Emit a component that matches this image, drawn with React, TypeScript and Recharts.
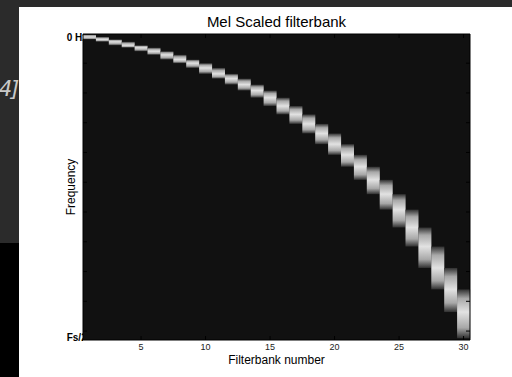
import React from "react";
import { BarChart, Bar, XAxis, YAxis, CartesianGrid } from "recharts";

// filter numbers and their band edges in FFT bins (1 = 0 Hz, 257 = Fs/2)
const filterNumbers = [
  1, 2, 3, 4, 5, 6, 7, 8, 9, 10, 11, 12, 13, 14, 15, 16, 17, 18, 19, 20, 21, 22, 23, 24, 25, 26, 27, 28,
  29, 30,
];
const bandEdges = [
  1, 3, 5, 7, 10, 12, 15, 18, 22, 25, 29, 34, 38, 43, 48, 54, 61, 68, 76, 84, 93, 102, 112, 123, 135,
  148, 163, 179, 197, 215, 234, 256,
];
const xTicks = [5, 10, 15, 20, 25, 30];
const yTicks = [1, 25, 50, 75, 100, 125, 150, 175, 200, 225, 250, 257];
const yLabelValues = [1, 257];
const yLabelTexts = ["0 Hz", "Fs/2"];

const data = filterNumbers.map((n, i) => ({
  n,
  band: [bandEdges[i], bandEdges[i + 2]],
  peak: bandEdges[i + 1],
}));

const W = 493;
const H = 370;
const PLOT_LEFT = 64;
const FONT = "'Liberation Sans', Arial, sans-serif";
const TICK = "#000";
const PEAK = "#e2e2e2";
const MID = "#a8a8a8";
const DIM = "#303030";

function FilterShape(props: any) {
  const { x, y, width, height, payload } = props;
  const top = Math.min(y, y + height);
  return (
    <rect x={x} y={top} width={width} height={Math.abs(height)} fill={`url(#fb${payload.n})`} />
  );
}

function BottomTick({ x, y, payload }: any) {
  if (!xTicks.includes(payload.value)) return <g />;
  return (
    <g>
      <line x1={x} x2={x} y1={y} y2={y - 4} stroke={TICK} />
      <text x={x} y={y + 10} textAnchor="middle" fontSize={9} fill="#222" fontFamily={FONT}>
        {payload.value}
      </text>
    </g>
  );
}

function TopTick({ x, y, payload }: any) {
  if (!xTicks.includes(payload.value)) return <g />;
  return <line x1={x} x2={x} y1={y} y2={y + 4} stroke={TICK} />;
}

function LeftTick({ x, y, payload }: any) {
  const li = yLabelValues.indexOf(payload.value);
  if (li < 0) return <line x1={x} x2={x + 4} y1={y} y2={y} stroke={TICK} />;
  return (
    <text
      x={x - 16.3}
      y={li === 0 ? y + 6 : y + 1.3}
      fontSize={10}
      fontWeight="bold"
      fill="#000"
      fontFamily={FONT}
      clipPath="url(#yLabelClip)"
    >
      {yLabelTexts[li]}
    </text>
  );
}

function RightTick({ x, y, payload }: any) {
  if (yLabelValues.includes(payload.value)) return <g />;
  return <line x1={x} x2={x - 4} y1={y} y2={y} stroke={TICK} />;
}

export default function App() {
  return (
    <div
      style={{
        position: "fixed",
        left: 0,
        top: 0,
        width: 512,
        height: 377,
        background: "#000",
        overflow: "hidden",
      }}
    >
      <div
        style={{ position: "absolute", left: 0, top: 0, width: 512, height: 243, background: "#2b2b2b" }}
      />
      <span
        style={{
          position: "absolute",
          left: -1,
          top: 77,
          fontFamily: "'DejaVu Sans Mono', monospace",
          fontStyle: "italic",
          fontSize: 22,
          lineHeight: "24px",
          letterSpacing: -4,
          color: "#c8c8c8",
          whiteSpace: "pre",
        }}
      >
        4]
      </span>
      <div style={{ position: "absolute", left: 19, top: 7, width: W, height: H, background: "#fff" }}>
        <BarChart
          width={W}
          height={H}
          data={data}
          margin={{ top: 17, right: 32, bottom: 7, left: 34 }}
          barCategoryGap={0}
          barGap={0}
        >
          <defs>
            {data.map((d) => {
              const p = (d.peak - d.band[0]) / (d.band[1] - d.band[0]);
              return (
                <linearGradient key={d.n} id={`fb${d.n}`} x1="0" y1="0" x2="0" y2="1">
                  <stop offset="0" stopColor={DIM} />
                  <stop offset={p * 0.4} stopColor={MID} />
                  <stop offset={p} stopColor={PEAK} />
                  <stop offset={p + (1 - p) * 0.6} stopColor={MID} />
                  <stop offset="1" stopColor={DIM} />
                </linearGradient>
              );
            })}
            <clipPath id="yLabelClip">
              <rect x={0} y={0} width={PLOT_LEFT} height={H} />
            </clipPath>
          </defs>
          <CartesianGrid fill="#111111" horizontal={false} vertical={false} />
          <XAxis
            dataKey="n"
            interval={0}
            height={30}
            tickSize={0}
            tickMargin={0}
            tickLine={false}
            axisLine={{ stroke: "#000" }}
            tick={<BottomTick />}
            label={{
              content: ({ viewBox }: any) => (
                <text
                  x={viewBox.x + viewBox.width / 2}
                  y={viewBox.y + 24}
                  textAnchor="middle"
                  fontSize={12}
                  fill="#000"
                  fontFamily={FONT}
                >
                  Filterbank number
                </text>
              ),
            }}
          />
          <XAxis
            xAxisId="top"
            orientation="top"
            dataKey="n"
            interval={0}
            height={10}
            tickSize={0}
            tickMargin={0}
            tickLine={false}
            axisLine={{ stroke: "#000" }}
            tick={<TopTick />}
            label={{
              content: ({ viewBox }: any) => (
                <text
                  x={viewBox.x + viewBox.width / 2}
                  y={viewBox.y + viewBox.height - 7.3}
                  textAnchor="middle"
                  fontSize={15}
                  fill="#000"
                  fontFamily={FONT}
                >
                  Mel Scaled filterbank
                </text>
              ),
            }}
          />
          <YAxis
            type="number"
            domain={[0.5, 257.5]}
            reversed
            allowDataOverflow
            ticks={yTicks}
            interval={0}
            width={30}
            tickSize={0}
            tickMargin={0}
            tickLine={false}
            axisLine={{ stroke: "#000" }}
            tick={<LeftTick />}
            label={{
              content: ({ viewBox }: any) => {
                const lx = viewBox.x + viewBox.width - 8.5;
                const ly = viewBox.y + viewBox.height / 2;
                return (
                  <text
                    x={lx}
                    y={ly}
                    transform={`rotate(-90, ${lx}, ${ly})`}
                    textAnchor="middle"
                    fontSize={12}
                    fill="#000"
                    fontFamily={FONT}
                  >
                    Frequency
                  </text>
                );
              },
            }}
          />
          <YAxis
            yAxisId="right"
            orientation="right"
            type="number"
            domain={[0.5, 257.5]}
            reversed
            allowDataOverflow
            ticks={yTicks}
            interval={0}
            width={10}
            tickSize={0}
            tickMargin={0}
            tickLine={false}
            axisLine={{ stroke: "#000" }}
            tick={<RightTick />}
          />
          <Bar dataKey="band" shape={<FilterShape />} isAnimationActive={false} />
        </BarChart>
      </div>
    </div>
  );
}
